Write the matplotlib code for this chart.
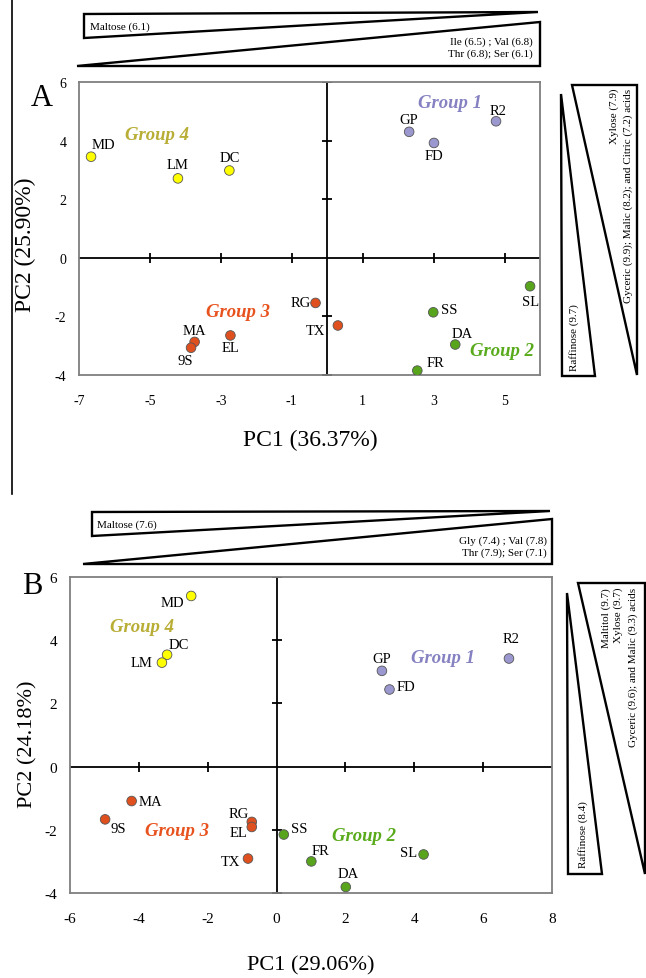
import numpy as np
import matplotlib
matplotlib.use("Agg")
import matplotlib.pyplot as plt
from matplotlib.patches import Polygon
from matplotlib.lines import Line2D

plt.rcParams['font.family'] = ['Liberation Serif', 'DejaVu Serif']
plt.rcParams['axes.unicode_minus'] = False

W, H = 646, 979

# ---------------- data ----------------
# panel A
a_names = ['MD', 'LM', 'DC', 'RG', 'MA', '9S', 'EL', 'TX', 'GP', 'FD', 'R2', 'SL', 'SS', 'DA', 'FR']
a_pc1 = [-6.66, -4.21, -2.76, -0.33, -3.74, -3.84, -2.73, 0.30, 2.31, 3.01, 4.76, 5.72, 2.99, 3.61, 2.54]
a_pc2 = [3.45, 2.71, 2.98, -1.54, -2.87, -3.07, -2.65, -2.31, 4.30, 3.92, 4.66, -0.97, -1.86, -2.96, -3.85]
a_group = [4, 4, 4, 3, 3, 3, 3, 3, 1, 1, 1, 2, 2, 2, 2]

# panel B
b_names = ['MD', 'DC', 'LM', 'MA', '9S', 'RG', 'EL', 'TX', 'SS', 'FR', 'GP', 'FD', 'R2', 'SL', 'DA']
b_pc1 = [-2.48, -3.18, -3.33, -4.21, -4.98, -0.72, -0.72, -0.83, 0.21, 1.01, 3.06, 3.28, 6.75, 4.27, 2.01]
b_pc2 = [5.40, 3.54, 3.29, -1.09, -1.67, -1.75, -1.91, -2.91, -2.15, -3.00, 3.03, 2.44, 3.42, -2.78, -3.81]
b_group = [4, 4, 4, 3, 3, 3, 3, 3, 2, 2, 1, 1, 1, 2, 2]

a_xticks = [-7, -5, -3, -1, 1, 3, 5]
b_xticks = [-6, -4, -2, 0, 2, 4, 6, 8]
yticks = [-4, -2, 0, 2, 4, 6]

a_top_texts = ['Maltose (6.1)', 'Ile (6.5) ; Val (6.8)\nThr (6.8); Ser (6.1)']
a_side_texts = ['Raffinose (9.7)', 'Xylose (7.9)', 'Gyceric (9.9); Malic (8.2); and Citric (7.2) acids']
b_top_texts = ['Maltose (7.6)', 'Gly (7.4) ; Val (7.8)\nThr (7.9); Ser (7.1)']
b_side_texts = ['Raffinose (8.4)', 'Maltitol (9.7)\nXylose (9.7)', 'Gyceric (9.6); and Malic (9.3) acids']

# ---------------- styles ----------------
marker_col = {1: '#9b98cf', 2: '#58a51d', 3: '#e0501f', 4: '#ffff00'}
group_col = {1: '#8682c2', 2: '#5aab1c', 3: '#e8521e', 4: '#b8ad35'}

# label offsets in pixels (dx, dy down)
a_off = {'MD': (12, -12), 'LM': (0, -14), 'DC': (0, -13), 'RG': (-15, 0), 'MA': (0, -11),
         '9S': (-6, 13), 'EL': (0, 12), 'TX': (-22, 5), 'GP': (0, -12), 'FD': (0, 13),
         'R2': (2, -11), 'SL': (0, 15), 'SS': (16, -3), 'DA': (7, -11), 'FR': (18, -8)}
b_off = {'MD': (-19, 7), 'DC': (12, -10), 'LM': (-20, 0), 'MA': (19, 0), '9S': (13, 9),
         'RG': (-13, -8), 'EL': (-13, 6), 'TX': (-17, 3), 'SS': (15, -6), 'FR': (9, -11),
         'GP': (0, -12), 'FD': (16, -3), 'R2': (2, -20), 'SL': (-15, -2), 'DA': (2, -13)}


def fx(px):
    return px / W


def fy(py):
    return 1 - py / H


fig = plt.figure(figsize=(W / 100, H / 100), dpi=100)


def tri(pts):
    fig.add_artist(Polygon([(fx(x), fy(y)) for x, y in pts], closed=True, fill=False,
                           edgecolor='black', linewidth=1.7, joinstyle='miter',
                           transform=fig.transFigure))


def panel(box, xlim, xticks, names, pc1, pc2, grp, offs, xcross, ycross, fs_lab):
    l, r, t, b = box
    ax = fig.add_axes([fx(l), fy(b), fx(r) - fx(l), fy(t) - fy(b)])
    ax.set_xlim(*xlim)
    ax.set_ylim(-4, 6)
    for s in ax.spines.values():
        s.set_color('#7f7f7f')
        s.set_linewidth(1.3)
    ax.axhline(0, color='black', lw=1.3, zorder=1)
    ax.axvline(0, color='black', lw=1.3, zorder=1)
    ax.plot(xcross, np.zeros(len(xcross)), ls='none', marker='|', ms=7, mew=1.3, color='black')
    ax.plot(np.zeros(len(ycross)), ycross, ls='none', marker='_', ms=7, mew=1.3, color='black')
    ax.set_xticks(xticks)
    ax.set_yticks(yticks)
    ax.set_xticklabels([str(v) for v in xticks])
    ax.set_yticklabels([str(v) for v in yticks])
    ax.tick_params(length=0, labelsize=fs_lab)
    ax.tick_params(axis='x', pad=14)
    ax.tick_params(axis='y', pad=9)
    cols = [marker_col[g] for g in grp]
    ax.scatter(pc1, pc2, s=48, c=cols, edgecolors='#555555', linewidths=0.6, zorder=3)
    for n, x, y in zip(names, pc1, pc2):
        dx, dy = offs[n]
        ax.annotate(n, (x, y), xytext=(dx, -dy), textcoords='offset pixels',
                    ha='center', va='center', fontsize=10.5)
    return ax


# ---------------- panel A ----------------
axA = panel((79, 540, 83, 376), (-7, 6), a_xticks, a_names, a_pc1, a_pc2, a_group, a_off,
            [-5, -3, -1, 1, 3, 5], [-4, -2, 2, 4, 6], 10)
for g, (px, py) in {4: (157, 136), 3: (238, 313), 1: (450, 103), 2: (502, 352)}.items():
    fig.text(fx(px), fy(py), 'Group %d' % g, color=group_col[g], fontsize=13.5,
             fontweight='bold', fontstyle='italic', ha='center', va='center')
fig.text(fx(310), fy(440), 'PC1 (36.37%)', fontsize=17, ha='center', va='center')
fig.text(fx(25), fy(245), 'PC2 (25.90%)', fontsize=17, ha='center', va='center', rotation=90)
fig.text(fx(42), fy(98), 'A', fontsize=22, ha='center', va='center')

tri([(84, 15), (84, 39), (538, 13)])
tri([(77, 67), (540, 67), (540, 23)])
fig.text(fx(90), fy(27), a_top_texts[0], fontsize=8, ha='left', va='center')
fig.text(fx(533), fy(48.5), a_top_texts[1], fontsize=8, ha='right', va='center', linespacing=1.3)
tri([(561, 95), (562, 377), (595, 377)])
tri([(572, 86), (637, 86), (637, 376)])
fig.text(fx(574), fy(371), a_side_texts[0], fontsize=8, rotation=90, ha='center', va='bottom')
fig.text(fx(614), fy(89), a_side_texts[1], fontsize=8, rotation=90, ha='center', va='top')
fig.text(fx(628), fy(89), a_side_texts[2], fontsize=8, rotation=90, ha='center', va='top')

# left border line
fig.add_artist(Line2D([fx(12), fx(12)], [fy(0), fy(495)], color='black', lw=1.2,
                      transform=fig.transFigure))

# ---------------- panel B ----------------
axB = panel((70, 552, 578, 894), (-6, 8), b_xticks, b_names, b_pc1, b_pc2, b_group, b_off,
            [-4, -2, 2, 4, 6], [-4, -2, 2, 4, 6], 11)
for g, (px, py) in {4: (142, 628), 3: (177, 831), 1: (443, 659), 2: (364, 837)}.items():
    fig.text(fx(px), fy(py), 'Group %d' % g, color=group_col[g], fontsize=13.5,
             fontweight='bold', fontstyle='italic', ha='center', va='center')
fig.text(fx(311), fy(966), 'PC1 (29.06%)', fontsize=16, ha='center', va='center')
fig.text(fx(28), fy(744), 'PC2 (24.18%)', fontsize=16, ha='center', va='center', rotation=90)
fig.text(fx(32), fy(586), 'B', fontsize=22, ha='center', va='center')

tri([(92, 513), (92, 537), (550, 512)])
tri([(83, 565), (552, 565), (552, 520)])
fig.text(fx(97), fy(525), b_top_texts[0], fontsize=8, ha='left', va='center')
fig.text(fx(547), fy(547), b_top_texts[1], fontsize=8, ha='right', va='center', linespacing=1.3)
tri([(567, 594), (568, 875), (602, 875)])
tri([(578, 584), (645, 584), (645, 875)])
fig.text(fx(583), fy(868), b_side_texts[0], fontsize=8, rotation=90, ha='center', va='bottom')
fig.text(fx(612), fy(588), b_side_texts[1], fontsize=8, rotation=90, ha='center', va='top',
         multialignment='right', linespacing=1.3)
fig.text(fx(633), fy(588), b_side_texts[2], fontsize=8, rotation=90, ha='center', va='top')

fig.savefig('out.png', dpi=100)
